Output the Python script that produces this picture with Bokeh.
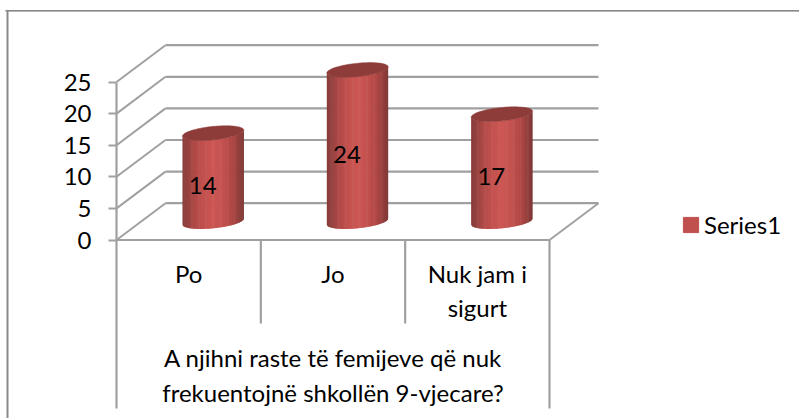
import numpy as np
from bokeh.core.properties import value
from bokeh.embed import file_html
from bokeh.models import FixedTicker, Legend, LegendItem, LinearAxis, Range1d
from bokeh.plotting import figure
from bokeh.resources import INLINE

categories = ["Po", "Jo", "Nuk jam i\nsigurt"]
series_values = [14, 24, 17]
series_name = "Series1"
y_ticks = [0, 5, 10, 15, 20, 25]
x_title = ["A njihni raste të femijeve që nuk", "frekuentojnë shkollën 9-vjecare?"]

W, H = 799, 418
X0, CAT = 116.0, 144.33      # px of category 0 and px per category
Y0, UNIT = 239.5, 6.32       # px of value 0 and px per value unit
DX, DY = 49.0, 36.8          # 3-D depth offset in px
R = 30.7                     # cylinder radius, px
FONT = "Lato"
FS = "24px"
TXT = "#000000"
GRID = "#a0a0a0"
BASE = "#c0504d"


def X(px):
    return (np.asarray(px, dtype=float) - X0) / CAT


def Y(py):
    return (Y0 - np.asarray(py, dtype=float)) / UNIT


p = figure(width=W, height=H, output_backend="svg", toolbar_location=None,
           x_range=Range1d(float(X(0)), float(X(W))), y_range=Range1d(float(Y(H)), float(Y(0))),
           x_axis_type=None, y_axis_type=None, min_border=0, outline_line_color=None,
           background_fill_color="white", border_fill_color="white")
p.grid.visible = False

# outer frame
p.segment(x0=[X(5)], y0=[Y(10)], x1=[X(W)], y1=[Y(10)], line_color="#888888", line_width=1.2)
p.segment(x0=[X(5)], y0=[Y(11)], x1=[X(W)], y1=[Y(11)], line_color="#b4b4b4", line_width=1)
p.segment(x0=[X(7)], y0=[Y(9.5)], x1=[X(7)], y1=[Y(H)], line_color="#8a8a8a", line_width=2)

# walls: back gridlines and side diagonals
n = len(categories)
ddx, ddy = DX / CAT, DY / UNIT
t = np.array(y_ticks, dtype=float)
p.segment(x0=[ddx] * len(t), y0=t + ddy, x1=[n + ddx] * len(t), y1=t + ddy, line_color=GRID, line_width=2.2)
p.segment(x0=[0] * len(t), y0=t, x1=[ddx] * len(t), y1=t + ddy, line_color=GRID, line_width=2)
p.segment(x0=[n], y0=[0], x1=[n + ddx], y1=[ddy], line_color=GRID, line_width=2)

# floor front line and category dividers
p.segment(x0=[0], y0=[0], x1=[n], y1=[0], line_color=GRID, line_width=2.2)
p.segment(x0=list(range(n + 1)), y0=[0] * (n + 1), x1=list(range(n + 1)),
          y1=[Y(408), Y(323), Y(323), Y(408)], line_color=GRID, line_width=2.2)

# y axis
ax = LinearAxis(ticker=FixedTicker(ticks=y_ticks), fixed_location=0, bounds=(0, 25),
                axis_line_color=GRID, axis_line_width=2.2,
                major_tick_line_color=GRID, major_tick_line_width=2,
                major_tick_in=0, major_tick_out=8, minor_tick_line_color=None,
                major_label_standoff=17, major_label_text_font=FONT,
                major_label_text_font_size=FS, major_label_text_color=TXT)
p.add_layout(ax, "left")


def shade(f):
    stops = [0.0, 0.08, 0.2, 0.35, 0.5, 0.65, 0.8, 0.92, 1.0]
    r = [135, 150, 178, 196, 204, 196, 176, 146, 122]
    g = [60, 66, 74, 82, 87, 82, 72, 63, 55]
    b = [58, 64, 72, 79, 84, 79, 70, 61, 53]
    return "#%02x%02x%02x" % (int(np.interp(f, stops, r)), int(np.interp(f, stops, g)), int(np.interp(f, stops, b)))


def ell_off(theta):
    # screen-down offset of the tilted elliptical rim, in px
    return -(3.0 * np.cos(theta) + 6.7 * np.sin(theta))


xs, ys, cols = [], [], []
cap_x, cap_y = [], []
S = 70
edges = np.linspace(-1, 1, S + 1)
for i, v in enumerate(series_values):
    cu = i + 0.5 + ddx / 2
    base = ddy / 2
    for j in range(S):
        a, b = edges[j], min(edges[j + 1] + 0.02, 1.0)
        frac = np.linspace(a, b, 4)
        off = ell_off(-np.arccos(frac)) / UNIT
        xx = cu + frac * R / CAT
        top = base + v - off
        bot = base - off
        xs.append(np.concatenate([xx, xx[::-1]]).tolist())
        ys.append(np.concatenate([top, bot[::-1]]).tolist())
        cols.append(shade((a + 1) / 2))
    th = np.linspace(0, 2 * np.pi, 90)
    cap_x.append((cu + np.cos(th) * R / CAT).tolist())
    cap_y.append((base + v - ell_off(th) / UNIT).tolist())

p.patches(xs, ys, fill_color=cols, line_color=None)
p.patches(cap_x, cap_y, fill_color="#8d3c3a", line_color="#8d3c3a", line_width=0.5)

# data labels
p.text(x=[i + 0.5 + ddx / 2 - 10.5 / CAT for i in range(n)],
       y=[v / 2 + ddy / 2 - 8.5 / UNIT for v in series_values],
       text=[str(v) for v in series_values], text_align="center", text_baseline="middle",
       text_font=value(FONT), text_font_size=FS, text_color=TXT)

# category labels
lx, ly, lt = [], [], []
for i, c in enumerate(categories):
    for k, line in enumerate(c.split("\n")):
        lx.append(i + 0.5)
        ly.append(float(Y(273 + 33.5 * k)))
        lt.append(line)
p.text(x=lx, y=ly, text=lt, text_align="center", text_baseline="middle",
       text_font=value(FONT), text_font_size=FS, text_color=TXT)

# axis title
p.text(x=[n / 2, n / 2], y=[Y(356.5), Y(391.5)], text=x_title, text_align="center", text_baseline="middle",
       text_font=value(FONT), text_font_size=FS, text_color=TXT)

# legend: zero-area quad only lends its colour to the legend swatch
swatch = p.quad(left=[0], right=[0], top=[0], bottom=[0], fill_color=BASE, line_color=BASE)
legend = Legend(items=[LegendItem(label=series_name, renderers=[swatch])], location=(681, H - 239),
                background_fill_alpha=0, border_line_color=None, glyph_width=19, glyph_height=19,
                label_text_font=FONT, label_text_font_size=FS, label_text_color=TXT,
                label_standoff=4, padding=4, margin=0)
p.add_layout(legend)

open("out.html", "w").write(file_html(p, INLINE))
